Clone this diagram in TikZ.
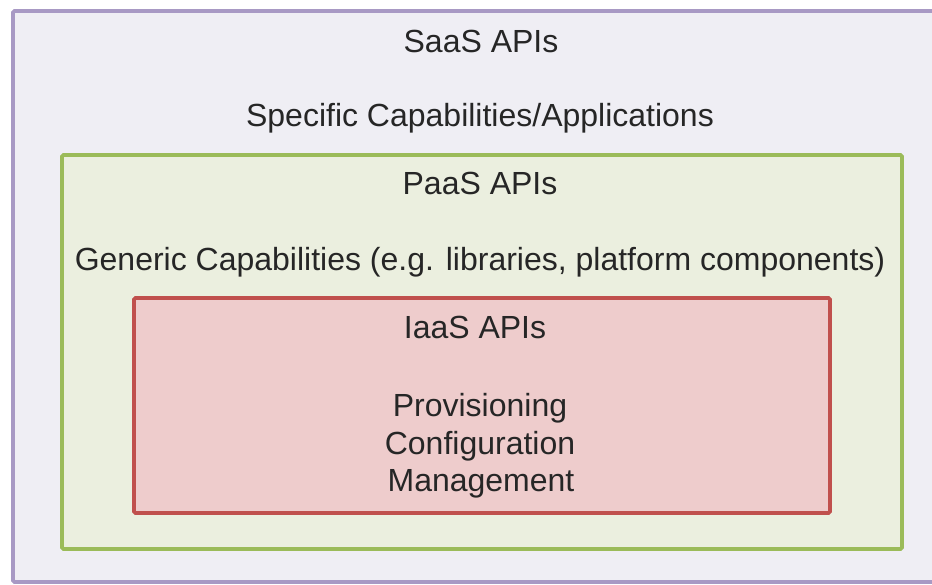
\documentclass[tikz,border=0pt]{standalone}
\usepackage{fontspec}
\setmainfont{Liberation Sans}
\begin{document}
\begin{tikzpicture}[x=1pt,y=-1pt,
  layer/.style={line width=3.6pt, rounded corners=1.5pt},
  lbl/.style={anchor=base, inner sep=0pt, text=black!85,
    font=\fontsize{32}{37.5}\selectfont}]
  \definecolor{saasline}{HTML}{A899C4}
  \definecolor{saasfill}{HTML}{EFEEF4}
  \definecolor{paasline}{HTML}{9BBB59}
  \definecolor{paasfill}{HTML}{EBEFDF}
  \definecolor{iaasline}{HTML}{C0504D}
  \definecolor{iaasfill}{HTML}{EECCCC}
  \useasboundingbox (0,0) rectangle (932,584);
  \fill[white] (0,0) rectangle (932,584);
  \begin{scope}
    \clip (0,0) rectangle (932,584);
    \draw[layer, draw=saasline, fill=saasfill] (13,11) rectangle (945,582);
  \end{scope}
  \draw[layer, draw=paasline, fill=paasfill] (62,155) rectangle (902,549);
  \draw[layer, draw=iaasline, fill=iaasfill] (134,298) rectangle (830,513);

  \node[lbl] (saas)  at (481,52)  {SaaS APIs};
  \node[lbl] (spec)  at (480,126) {Specific Capabilities/Applications};
  \node[lbl] (paas)  at (480,194) {PaaS APIs};
  \node[lbl] (gen)   at (480,270) {Generic Capabilities (e.g. libraries, platform components)};
  \node[lbl] (iaas)  at (475,338) {IaaS APIs};
  \node[lbl] (prov)  at (480,416) {Provisioning};
  \node[lbl] (conf)  at (480,454) {Configuration};
  \node[lbl] (mgmt)  at (481,491) {Management};
\end{tikzpicture}
\end{document}
